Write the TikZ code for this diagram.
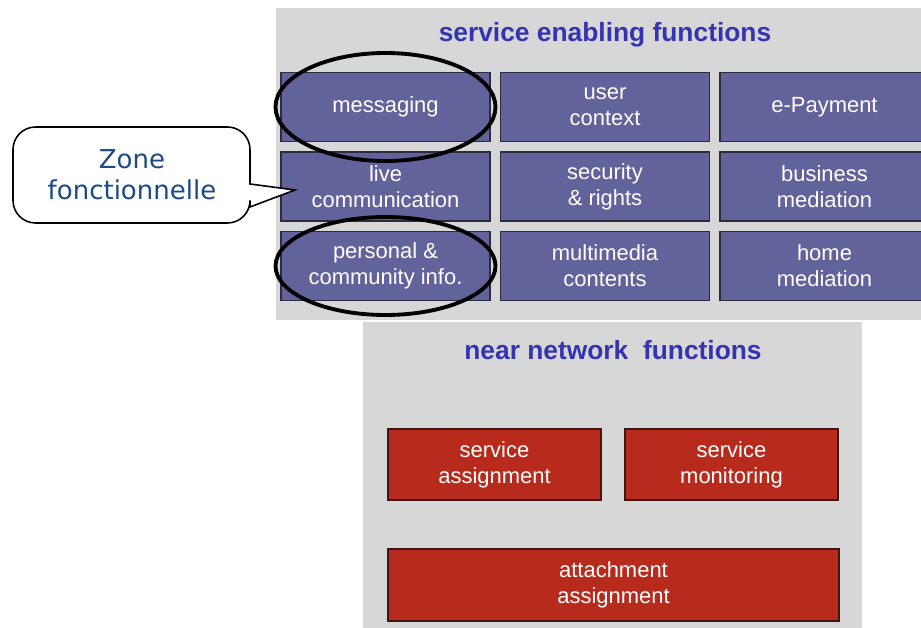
\documentclass[tikz,border=0pt]{standalone}
\usepackage{fontspec}
\setmainfont{Liberation Sans}
\newfontfamily\zonefont{DejaVu Sans}
\usetikzlibrary{positioning}
\definecolor{PanelGrey}{HTML}{D7D7D7}
\definecolor{TitleBlue}{HTML}{3434B2}
\definecolor{ZoneBlue}{HTML}{1B4A86}
\definecolor{Slate}{HTML}{63639B}
\definecolor{SlateEdge}{HTML}{2C2C40}
\definecolor{Brick}{HTML}{B82A1C}
\definecolor{BrickEdge}{HTML}{3E1612}

\begin{document}
\begin{tikzpicture}[x=0.02cm,y=-0.02cm,
  func/.style={draw=SlateEdge, line width=0.9pt, fill=Slate, text=white, align=center,
    font=\fontsize{12.5}{14.8}\selectfont, minimum width=4.18cm, minimum height=1.38cm, inner sep=0pt},
  netfunc/.style={func, draw=BrickEdge, fill=Brick, minimum width=4.26cm, minimum height=1.42cm},
  paneltitle/.style={text=TitleBlue, font=\fontsize{15}{18}\selectfont\bfseries},
  zone/.style={line width=2.2pt, draw=black}]
\clip (0,0) rectangle (921,628);
\fill[white] (0,0) rectangle (921,628);

% --- service enabling functions ---
\fill[PanelGrey] (276,8) rectangle (935,320);
\node[paneltitle] (sef-title) at (605,35) {service enabling functions};
\foreach \r/\c/\lab in {0/0/messaging, 0/1/{user\\context}, 0/2/e-Payment,
                        1/0/{live\\communication}, 1/1/{security\\\& rights}, 1/2/{business\\mediation},
                        2/0/{personal \&\\community info.}, 2/1/{multimedia\\contents}, 2/2/{home\\mediation}}
  \node[func] (sef-\r-\c) at (385.5+\c*219.5,107+\r*79.5) {\lab};

% highlighted zones
\draw[zone] (sef-0-0.center) ellipse [x radius=110, y radius=54];
\draw[zone] (sef-2-0.center) ellipse [x radius=110, y radius=49];

% --- callout ---
\coordinate (tip) at (295,190);
\draw[line width=0.9pt, fill=white] (250,184) [rounded corners=0.45cm] -- (250,127) -- (13,127) -- (13,223) -- (250,223)
  [sharp corners] -- (250,207) -- (tip) -- cycle;
\node[text=ZoneBlue, align=center, font=\zonefont\fontsize{14.8}{17.6}\selectfont] (zone-label) at (132,175) {Zone\\fonctionnelle};

% --- near network functions ---
\fill[PanelGrey] (363,322) rectangle (862,630);
\node[paneltitle] (nnf-title) at (613,350) {near network\ \ functions};
\node[netfunc] (srv-assign) at (494.5,464.5) {service\\assignment};
\node[netfunc] (srv-monitor) at (731.5,464.5) {service\\monitoring};
\node[netfunc, minimum width=9.02cm, minimum height=1.44cm] (attach) at (613.5,585) {attachment\\assignment};
\end{tikzpicture}
\end{document}
